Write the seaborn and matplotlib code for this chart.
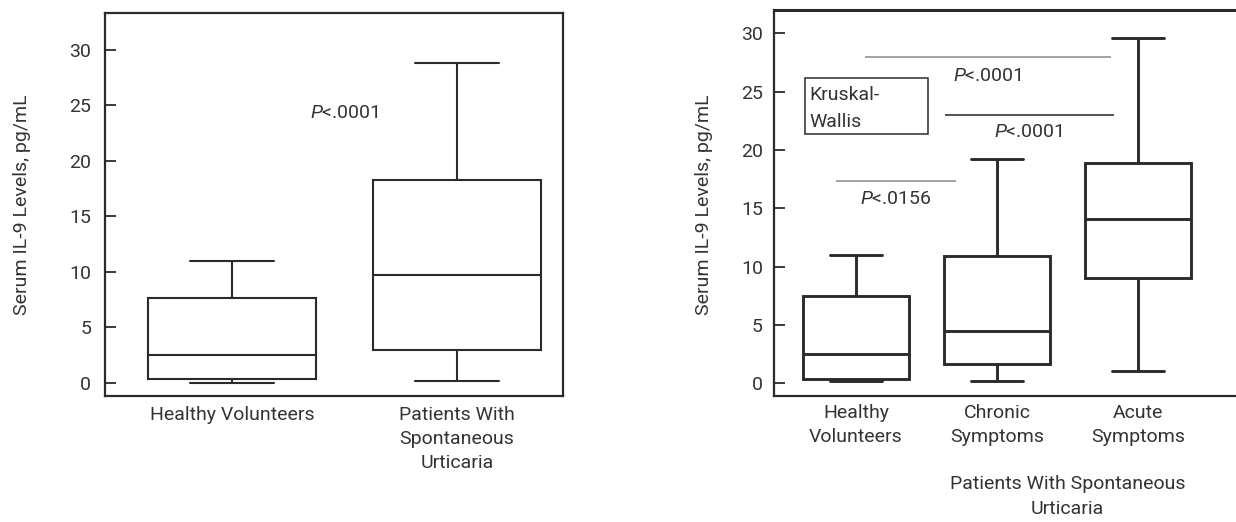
import matplotlib
matplotlib.use("Agg")
import matplotlib.pyplot as plt
from matplotlib import font_manager as fm
from matplotlib.patches import Rectangle
import seaborn as sns
import pandas as pd

# ---------------- data (five-number summaries) ----------------
left_groups = ["Healthy Volunteers", "Patients With\nSpontaneous\nUrticaria"]
left_healthy = [0.0, 0.35, 2.5, 7.6, 11.0]
left_patients = [0.15, 2.95, 9.7, 18.3, 28.8]

right_groups = ["Healthy\nVolunteers", "Chronic\nSymptoms", "Acute\nSymptoms"]
right_healthy = [0.15, 0.37, 2.5, 7.5, 10.95]
right_chronic = [0.2, 1.63, 4.5, 10.9, 19.2]
right_acute = [1.08, 9.0, 14.1, 18.9, 29.6]

y_ticks = [0, 5, 10, 15, 20, 25, 30]
y_label = "Serum IL-9 Levels, pg/mL"
right_group_label = "Patients With Spontaneous\nUrticaria"
left_p = r"$P$<.0001"
right_p_labels = [r"$P$<.0001", r"$P$<.0001", r"$P$<.0156"]

# ---------------- style ----------------
sns.set_style("white")
names = {f.name for f in fm.fontManager.ttflist}
if "Liberation Sans Narrow" in names:
    FONT, FS = "Liberation Sans Narrow", 16
else:
    FONT, FS = "Roboto", 14
plt.rcParams["font.family"] = [FONT, "DejaVu Sans"]
plt.rcParams["mathtext.fontset"] = "custom"
plt.rcParams["mathtext.rm"] = FONT
plt.rcParams["mathtext.it"] = FONT + ":italic"
TXT = "#333333"
EDGE = "#2b2b2b"

W, H = 1236, 522
fig = plt.figure(figsize=(W / 100, H / 100), dpi=100)
ax1 = fig.add_axes([105 / W, 1 - 396 / H, (563 - 105) / W, (396 - 13) / H])
ax2 = fig.add_axes([774 / W, 1 - 396 / H, (1236 - 774) / W, (396 - 10) / H])

df_left = pd.DataFrame({
    "group": [left_groups[0]] * len(left_healthy) + [left_groups[1]] * len(left_patients),
    "value": left_healthy + left_patients,
})
df_right = pd.DataFrame({
    "group": [right_groups[0]] * len(right_healthy) + [right_groups[1]] * len(right_chronic)
             + [right_groups[2]] * len(right_acute),
    "value": right_healthy + right_chronic + right_acute,
})

sns.boxplot(data=df_left, x="group", y="value", order=left_groups, color="white",
            linecolor=EDGE, linewidth=1.5, width=0.75, whis=(0, 100),
            showfliers=False, saturation=1, ax=ax1)
sns.boxplot(data=df_right, x="group", y="value", order=right_groups, color="white",
            linecolor=EDGE, linewidth=2.1, width=0.75, whis=(0, 100),
            showfliers=False, saturation=1, ax=ax2)

for ax in (ax1, ax2):
    ax.set_xlabel("")
    ax.set_ylabel(y_label, fontsize=FS, color=TXT)
    ax.set_yticks(y_ticks)
    ax.tick_params(axis="y", direction="in", length=8, width=1.3, color=EDGE,
                   labelsize=FS, labelcolor=TXT, left=True)
    ax.tick_params(axis="x", length=0, labelsize=FS, labelcolor=TXT)
    for lab in ax.get_xticklabels():
        lab.set_linespacing(1.45)
    for s in ax.spines.values():
        s.set_color(EDGE)
        s.set_linewidth(1.6)

ax1.set_xlim(-0.564, 1.471)
ax1.set_ylim(-1.2, 33.3)
ax1.tick_params(axis="y", pad=10)
ax1.tick_params(axis="x", pad=7)
ax1.yaxis.set_label_coords(-0.162, 0.5)

ax2.set_xlim(-0.582, 2.695)
ax2.set_ylim(-1.1, 32.0)
ax2.tick_params(axis="y", pad=8)
ax2.tick_params(axis="x", pad=5.5)
ax2.yaxis.set_label_coords(-0.132, 0.495)
ax2.spines["right"].set_visible(False)
ax2.spines["top"].set_linewidth(2.2)

# left annotation
ax1.text(0.5, 23.85, left_p, ha="center", va="baseline", fontsize=FS, color=TXT)

# right annotations: comparison lines
ax2.hlines(28.0, 0.06, 1.81, color="#9a9a9a", linewidth=1.3)
ax2.hlines(23.0, 0.63, 1.83, color="#222222", linewidth=1.1)
ax2.hlines(17.36, -0.14, 0.71, color="#9a9a9a", linewidth=1.3)
ax2.text(0.93, 25.9, right_p_labels[0], ha="center", va="baseline", fontsize=FS, color=TXT)
ax2.text(1.22, 21.1, right_p_labels[1], ha="center", va="baseline", fontsize=FS, color=TXT)
ax2.text(0.28, 15.36, right_p_labels[2], ha="center", va="baseline", fontsize=FS, color=TXT)

# Kruskal-Wallis box
ax2.add_patch(Rectangle((-0.36, 21.4), 0.87, 4.8, fill=False, edgecolor=EDGE, linewidth=1.1))
ax2.text(-0.331, 24.3, "Kruskal-", ha="left", va="baseline", fontsize=FS, color=TXT)
ax2.text(-0.331, 22.0, "Wallis", ha="left", va="baseline", fontsize=FS, color=TXT)

# group label under right panel
ax2.text(1.5, -0.26, right_group_label, ha="center", va="center", multialignment="center",
         fontsize=FS, color=TXT, linespacing=1.45,
         transform=ax2.get_xaxis_transform())

fig.savefig("out.png", dpi=100)
